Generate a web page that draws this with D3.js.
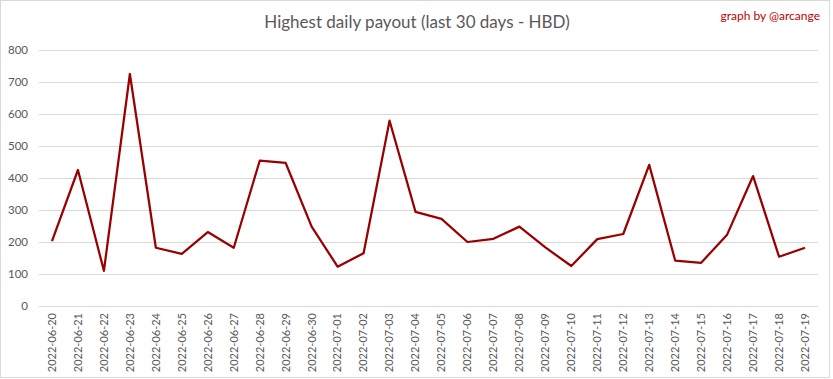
<!DOCTYPE html>
<html>
<head>
<meta charset="utf-8">
<script src="https://cdn.jsdelivr.net/npm/d3@7"></script>
<style>
  body { margin: 0; background: #fff; }
  svg { display: block; }
</style>
</head>
<body>
<div id="chart"></div>
<script>

var dates = ["2022-06-20","2022-06-21","2022-06-22","2022-06-23","2022-06-24","2022-06-25",
  "2022-06-26","2022-06-27","2022-06-28","2022-06-29","2022-06-30","2022-07-01","2022-07-02",
  "2022-07-03","2022-07-04","2022-07-05","2022-07-06","2022-07-07","2022-07-08","2022-07-09",
  "2022-07-10","2022-07-11","2022-07-12","2022-07-13","2022-07-14","2022-07-15","2022-07-16",
  "2022-07-17","2022-07-18","2022-07-19"];

var payout = [203, 425, 110, 725, 182, 163, 231, 182, 454, 447, 248, 123, 165, 579, 294,
  272, 200, 210, 248, 183, 125, 209, 225, 441, 142, 135, 223, 406, 154, 182];

var yTicks = [0, 100, 200, 300, 400, 500, 600, 700, 800];

var W = 833, H = 379;
var margin = {top: 50, right: 15, bottom: 73, left: 39};
var plot_w = W - margin.left - margin.right;
var plot_h = H - margin.top - margin.bottom;

var svg = d3.select("#chart").append("svg")
  .attr("width", W)
  .attr("height", H);

// outer frame
svg.append("rect")
  .attr("x", 0.5).attr("y", 0.5)
  .attr("width", W - 4).attr("height", H - 2)
  .attr("fill", "#fff")
  .attr("stroke", "#d9d9d9");

svg.append("text")
  .attr("x", 417).attr("y", 28)
  .attr("text-anchor", "middle")
  .style("font-family", "Lato, 'Open Sans', sans-serif")
  .style("font-size", "17px")
  .style("fill", "#595959")
  .text("Highest daily payout (last 30 days - HBD)");

svg.append("text")
  .attr("x", 820).attr("y", 20)
  .attr("text-anchor", "end")
  .style("font-family", "Lato, 'Open Sans', sans-serif")
  .style("font-size", "12px")
  .style("fill", "#c00000")
  .text("graph by @arcange");

var g = svg.append("g")
  .attr("transform", "translate(" + margin.left + "," + margin.top + ")");

var x = d3.scaleBand().domain(dates).range([0, plot_w]);
var y = d3.scaleLinear().domain([0, 800]).range([plot_h, 0]);

// gridlines
g.append("g")
  .selectAll("line")
  .data(yTicks)
  .join("line")
    .attr("x1", 0).attr("x2", plot_w)
    .attr("y1", function(d) { return Math.round(y(d)) + 0.5; })
    .attr("y2", function(d) { return Math.round(y(d)) + 0.5; })
    .attr("stroke", "#d9d9d9")
    .attr("stroke-width", 1);

// y axis labels
var yAxis = d3.axisLeft(y).tickValues(yTicks).tickSize(0).tickPadding(11);
g.append("g")
  .call(yAxis)
  .call(function(s) { s.select(".domain").remove(); })
  .selectAll("text")
    .style("font-family", "Lato, 'Open Sans', sans-serif")
    .style("font-size", "11.5px")
    .style("fill", "#595959");

// x axis labels
var xAxis = d3.axisBottom(x).tickSize(0).tickPadding(0);
g.append("g")
  .attr("transform", "translate(0," + plot_h + ")")
  .call(xAxis)
  .call(function(s) { s.select(".domain").remove(); })
  .selectAll("text")
    .style("font-family", "Lato, 'Open Sans', sans-serif")
    .style("font-size", "11px")
    .style("fill", "#595959")
    .style("text-anchor", "end")
    .attr("dx", "-7px")
    .attr("dy", "0.35em")
    .attr("y", 0)
    .attr("transform", "rotate(-90)");

var line = d3.line()
  .x(function(d, i) { return x(dates[i]) + x.bandwidth() / 2; })
  .y(function(d) { return y(d); });

g.append("path")
  .datum(payout)
  .attr("fill", "none")
  .attr("stroke", "#990000")
  .attr("stroke-width", 2.25)
  .attr("stroke-linejoin", "round")
  .attr("d", line);

</script>
</body>
</html>
